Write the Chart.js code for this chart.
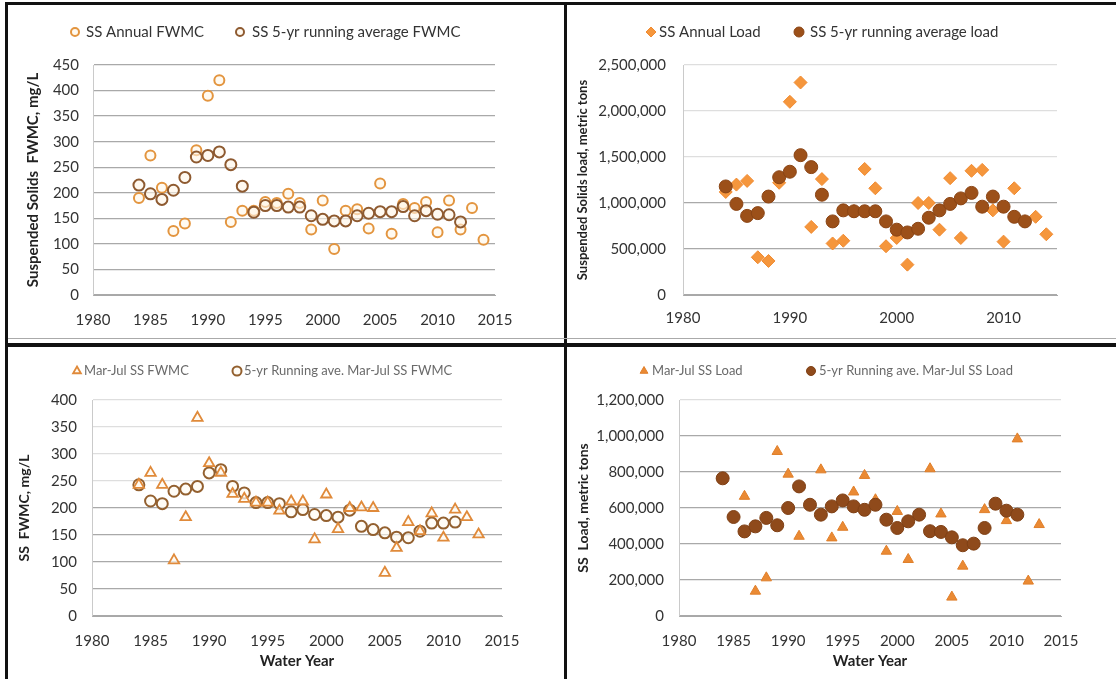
<!DOCTYPE html>
<html>
<head>
<meta charset="utf-8">
<script src="https://cdn.jsdelivr.net/npm/chart.js"></script>
<style>
  body { margin: 0; background: #fff; width: 1116px; height: 679px; overflow: hidden; position: relative; }
  .panel { position: absolute; }
  .rule { position: absolute; background: #111; }
</style>
</head>
<body>
<div class="rule" style="left:5px;top:2px;width:1111px;height:3px"></div>
<div class="rule" style="left:5px;top:2px;width:3px;height:677px"></div>
<div class="rule" style="left:564px;top:2px;width:3px;height:677px"></div>
<div class="rule" style="left:8px;top:338px;width:1108px;height:1px;background:#aaa"></div>
<div class="rule" style="left:5px;top:343px;width:1111px;height:4px"></div>

<div class="panel" style="left:8px;top:5px;width:556px;height:338px"><canvas id="fwmcChart"></canvas></div>
<div class="panel" style="left:567px;top:5px;width:549px;height:338px"><canvas id="loadChart"></canvas></div>
<div class="panel" style="left:8px;top:347px;width:556px;height:332px"><canvas id="mjFwmcChart"></canvas></div>
<div class="panel" style="left:567px;top:347px;width:549px;height:332px"><canvas id="mjLoadChart"></canvas></div>

<script>
// water years
var yearsAnnual = [1984, 1985, 1986, 1987, 1988, 1989, 1990, 1991, 1992, 1993, 1994,
  1995, 1996, 1997, 1998, 1999, 2000, 2001, 2002, 2003, 2004, 2005, 2006, 2007,
  2008, 2009, 2010, 2011, 2012, 2013, 2014];
var yearsRunning = [1984, 1985, 1986, 1987, 1988, 1989, 1990, 1991, 1992, 1993, 1994,
  1995, 1996, 1997, 1998, 1999, 2000, 2001, 2002, 2003, 2004, 2005, 2006, 2007,
  2008, 2009, 2010, 2011, 2012];
var yearsMarJul = [1984, 1985, 1986, 1987, 1988, 1989, 1990, 1991, 1992, 1993, 1994,
  1995, 1996, 1997, 1998, 1999, 2000, 2001, 2002, 2003, 2004, 2005, 2006, 2007,
  2008, 2009, 2010, 2011, 2012, 2013];
var yearsMarJulRunning = [1984, 1985, 1986, 1987, 1988, 1989, 1990, 1991, 1992, 1993,
  1994, 1995, 1996, 1997, 1998, 1999, 2000, 2001, 2002, 2003, 2004, 2005, 2006,
  2007, 2008, 2009, 2010, 2011];

// SS FWMC, mg/L
var annualFwmc = [190, 273, 210, 125, 140, 283, 390, 420, 143, 165, 165, 182, 180,
  198, 180, 128, 185, 90, 165, 168, 130, 218, 120, 178, 170, 182, 123, 185, 128,
  170, 108];
var runningFwmc = [215, 198, 187, 205, 230, 270, 273, 280, 255, 213, 162, 175, 175,
  172, 172, 155, 148, 145, 145, 155, 160, 163, 163, 173, 155, 165, 158, 157, 143];

// SS load, metric tons
var annualLoad = [1120000, 1200000, 1240000, 410000, 370000, 1220000, 2100000,
  2310000, 740000, 1260000, 560000, 590000, 910000, 1370000, 1160000, 530000,
  620000, 330000, 1000000, 1000000, 710000, 1270000, 620000, 1350000, 1360000,
  920000, 580000, 1160000, 800000, 850000, 660000];
var runningLoad = [1180000, 990000, 860000, 890000, 1070000, 1280000, 1340000,
  1520000, 1390000, 1090000, 800000, 920000, 910000, 910000, 910000, 800000,
  710000, 680000, 720000, 840000, 920000, 990000, 1050000, 1110000, 960000,
  1070000, 960000, 850000, 800000];

// Mar-Jul SS FWMC, mg/L
var marJulFwmc = [243, 265, 243, 103, 183, 367, 283, 265, 226, 217, 210, 210, 195,
  212, 212, 142, 225, 161, 200, 201, 200, 80, 126, 174, 157, 190, 145, 197, 183, 151];
var marJulRunningFwmc = [243, 213, 208, 231, 235, 240, 265, 271, 240, 228, 210, 210,
  208, 193, 197, 188, 186, 183, 196, 166, 160, 154, 146, 145, 157, 172, 172, 174];

// Mar-Jul SS load, metric tons
var marJulLoad = [765000, 550000, 665000, 138000, 212000, 914000, 788000, 443000,
  615000, 812000, 434000, 493000, 689000, 781000, 646000, 360000, 581000, 314000,
  560000, 818000, 567000, 105000, 277000, 400000, 591000, 620000, 530000, 984000,
  194000, 508000];
var marJulRunningLoad = [765000, 550000, 470000, 498000, 545000, 504000, 600000,
  720000, 618000, 563000, 609000, 642000, 609000, 590000, 618000, 535000, 489000,
  526000, 563000, 471000, 467000, 437000, 393000, 402000, 489000, 624000, 585000,
  563000];

function pts(xs, ys) {
  return xs.map(function (x, i) { return { x: x, y: ys[i] }; });
}

var tickColor = "#333";
var titleColor = "#222";

// legend drawn as one row at fixed spots, markers taken from the datasets
var rowLegend = {
  id: "rowLegend",
  afterDraw: function (chart, args, opts) {
    var ctx = chart.ctx;
    ctx.save();
    opts.items.forEach(function (it, i) {
      var ds = chart.data.datasets[i];
      ctx.fillStyle = ds.backgroundColor;
      ctx.strokeStyle = ds.borderColor;
      ctx.lineWidth = ds.borderWidth;
      Chart.helpers.drawPoint(ctx, { pointStyle: ds.pointStyle, radius: opts.r, borderWidth: ds.borderWidth, rotation: 0 }, it[0], opts.y);
      ctx.font = opts.font;
      ctx.textBaseline = "middle";
      ctx.fillStyle = opts.color;
      ctx.fillText(ds.label, it[1], opts.y);
    });
    ctx.restore();
  }
};

function yearAxis(step, pad, h, title, extra) {
  var ax = {
    type: "linear", min: 1980, max: 2015,
    ticks: { stepSize: step, padding: pad, color: tickColor, maxRotation: 0, autoSkip: false,
      font: { family: "Lato", size: 15 }, callback: function (v) { return String(v); } },
    grid: { display: false, drawTicks: false },
    border: { color: "#a8a8a8", width: 1 },
    afterFit: function (s) { s.height = h; }
  };
  if (title) {
    ax.title = { display: true, text: title, color: titleColor, padding: { bottom: 9 },
      font: { family: "Lato", size: 15, weight: "bold" } };
  }
  if (extra) Object.assign(ax.ticks, extra);
  return ax;
}

function valueAxis(max, step, pad, w, title, titleSize, titlePad, faintAbove, money) {
  return {
    min: 0, max: max,
    ticks: { stepSize: step, padding: pad, color: tickColor, font: { family: "Lato", size: 15 },
      callback: function (v) { return money ? v.toLocaleString("en-US") : String(v); } },
    grid: { drawTicks: false, lineWidth: 1.3,
      color: function (c) { return c.tick && c.tick.value > faintAbove ? "#dedede" : "#a9a9a9"; } },
    border: { color: "#cacaca", width: 1 },
    title: { display: true, text: title, color: titleColor, padding: { top: titlePad },
      font: { family: "Lato", size: titleSize, weight: "bold" } },
    afterFit: function (s) { s.width = w; }
  };
}

function panel(id, datasets, xAxis, yAxis, pad, legend) {
  return new Chart(document.getElementById(id), {
    type: "scatter",
    data: { datasets: datasets },
    options: {
      responsive: true,
      maintainAspectRatio: false,
      animation: false,
      layout: { padding: pad },
      plugins: { legend: { display: false }, tooltip: { enabled: false }, rowLegend: legend },
      scales: { x: xAxis, y: yAxis }
    },
    plugins: [rowLegend]
  });
}

panel("fwmcChart", [
  { label: "SS Annual FWMC", data: pts(yearsAnnual, annualFwmc), order: 1,
    pointStyle: "circle", pointRadius: 5, borderWidth: 2,
    borderColor: "#e3953f", backgroundColor: "rgba(255,250,240,0.9)" },
  { label: "SS 5-yr running average FWMC", data: pts(yearsRunning, runningFwmc), order: 0,
    pointStyle: "circle", pointRadius: 5.5, borderWidth: 2,
    borderColor: "#8e5a30", backgroundColor: "rgba(255,245,230,0.6)" }
], yearAxis(5, 16, 48), valueAxis(450, 50, 14, 75, "Suspended Solids  FWMC, mg/L", 15, 6, 1e9, false),
  { top: 60, left: 10, right: 69, bottom: 0 },
  { y: 27, r: 4, font: "15px Lato", color: "#333", items: [[67, 78], [232, 244]] });

panel("loadChart", [
  { label: "SS Annual Load", data: pts(yearsAnnual, annualLoad), order: 1,
    pointStyle: "rectRot", pointRadius: 6.5, borderWidth: 1,
    borderColor: "#f08a30", backgroundColor: "#f5963c" },
  { label: "SS 5-yr running average load", data: pts(yearsRunning, runningLoad), order: 0,
    pointStyle: "circle", pointRadius: 6.5, borderWidth: 1,
    borderColor: "#8a4414", backgroundColor: "#9c5019" }
], yearAxis(10, 14, 48, null, { includeBounds: false }),
  valueAxis(2500000, 500000, 17, 114, "Suspended Solids load, metric tons", 13, 6, 1000000, true),
  { top: 60, left: 2, right: 59, bottom: 0 },
  { y: 27, r: 5, font: "15px Lato", color: "#333", items: [[84, 92], [232, 243]] });

panel("mjFwmcChart", [
  { label: "Mar-Jul SS FWMC", data: pts(yearsMarJul, marJulFwmc), order: 0,
    pointStyle: "triangle", pointRadius: 6, borderWidth: 1.8,
    borderColor: "#e08a3a", backgroundColor: "rgba(255,250,240,0.7)" },
  { label: "5-yr Running ave. Mar-Jul SS FWMC", data: pts(yearsMarJulRunning, marJulRunningFwmc), order: 1,
    pointStyle: "circle", pointRadius: 5.5, borderWidth: 2,
    borderColor: "#93602f", backgroundColor: "rgba(255,250,240,0.6)" }
], yearAxis(5, 16, 63, "Water Year"), valueAxis(400, 50, 15, 82, "SS  FWMC, mg/L", 14, 6, 200, false),
  { top: 53, left: 2, right: 62, bottom: 0 },
  { y: 24, r: 4.5, font: "13px Lato", color: "#6a6a6a", items: [[69, 76], [229, 236]] });

panel("mjLoadChart", [
  { label: "Mar-Jul SS Load", data: pts(yearsMarJul, marJulLoad), order: 1,
    pointStyle: "triangle", pointRadius: 6, borderWidth: 1,
    borderColor: "#e07f2a", backgroundColor: "#ea8a34" },
  { label: "5-yr Running ave. Mar-Jul SS Load", data: pts(yearsMarJulRunning, marJulRunningLoad), order: 0,
    pointStyle: "circle", pointRadius: 6.5, borderWidth: 1,
    borderColor: "#7f4015", backgroundColor: "#8f4a1b" }
], yearAxis(5, 16, 63, "Water Year"), valueAxis(1200000, 200000, 15, 110, "SS  Load, metric tons", 14, 6, 1000000, true),
  { top: 53, left: 2, right: 55, bottom: 0 },
  { y: 24, r: 4.5, font: "13px Lato", color: "#6a6a6a", items: [[77, 85], [244, 252]] });
</script>
</body>
</html>
